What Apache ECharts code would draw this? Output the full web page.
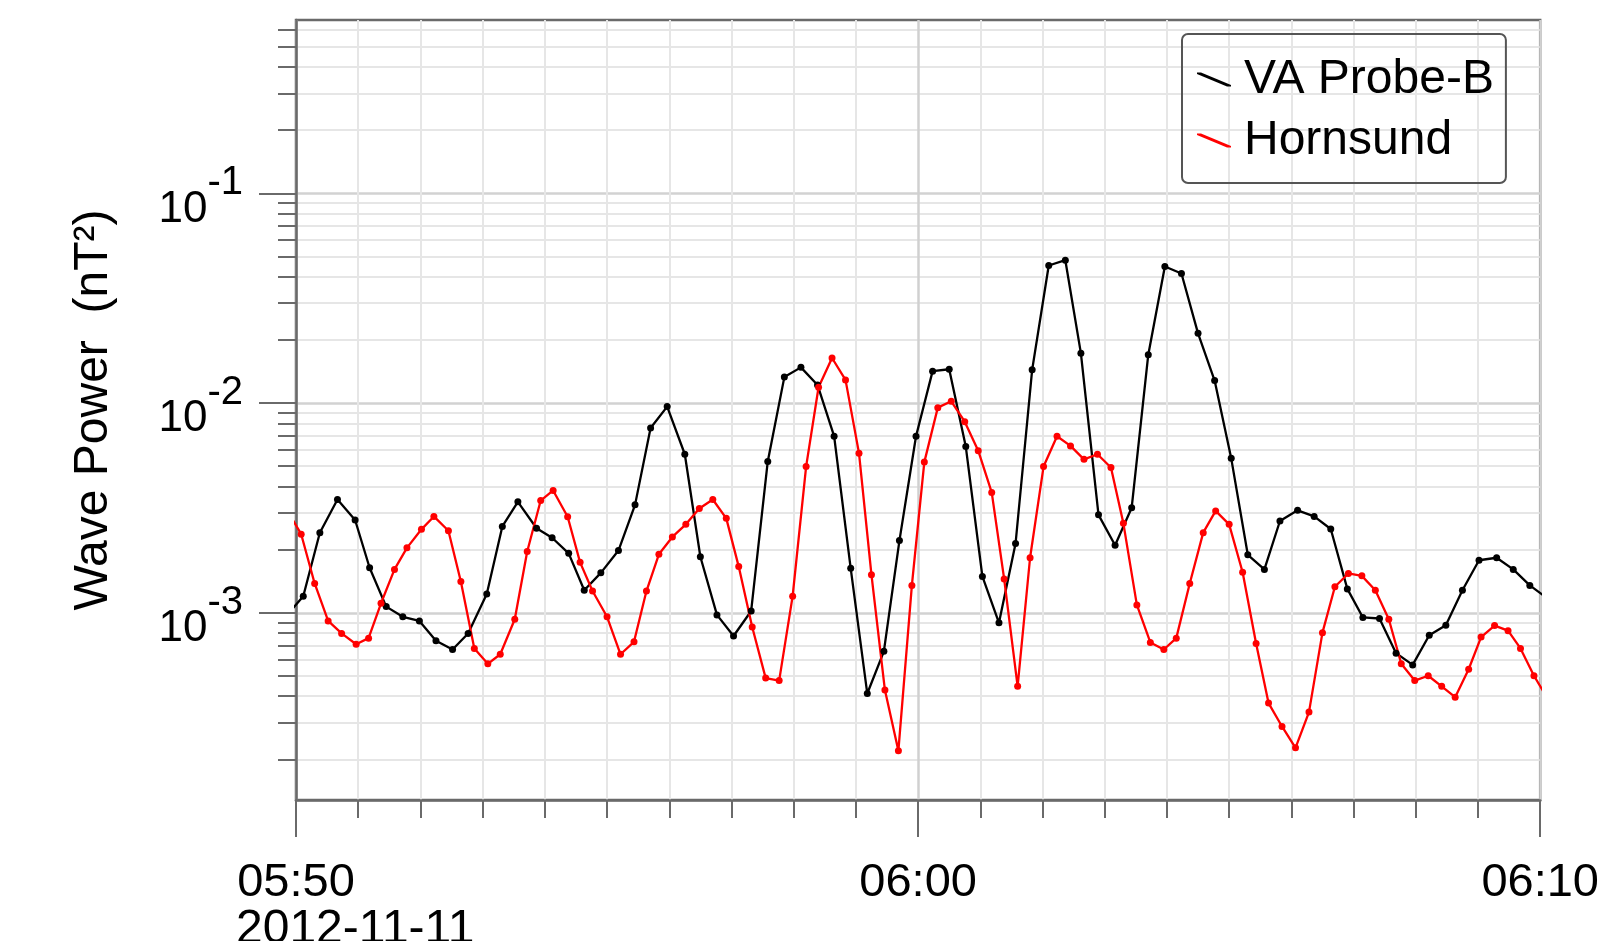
<!DOCTYPE html>
<html>
<head>
<meta charset="utf-8">
<script src="https://cdn.jsdelivr.net/npm/echarts@6/dist/echarts.min.js"></script>
<style>
html,body{margin:0;padding:0;background:#fff;}
#c{width:1602px;height:941px;}
</style>
</head>
<body>
<div id="c"></div>
<script>
// ---- data (seconds after 05:50:00 UT, 2012-11-11) ----
const blackT = [-9,7,23,40,57,71,87,103,119,135,151,166,184,199,214,232,247,263,278,294,311,327,342,358,375,390,406,422,439,455,471,487,503,519,535,551,567,582,598,614,630,646,662,678,694,710,726,742,757,774,790,806,822,838,854,870,886,902,918,934,949,966,982,998,1014,1029,1045,1061,1077,1093,1109,1125,1141,1158,1174,1190,1206];
const blackV = [9.7e-4,1.20e-3,2.41e-3,3.47e-3,2.77e-3,1.64e-3,1.07e-3,9.57e-4,9.14e-4,7.36e-4,6.68e-4,7.97e-4,1.23e-3,2.58e-3,3.38e-3,2.53e-3,2.28e-3,1.92e-3,1.28e-3,1.55e-3,1.98e-3,3.27e-3,7.60e-3,9.62e-3,5.70e-3,1.85e-3,9.77e-4,7.75e-4,1.02e-3,5.27e-3,1.33e-2,1.48e-2,1.22e-2,6.95e-3,1.63e-3,4.12e-4,6.55e-4,2.21e-3,6.95e-3,1.42e-2,1.45e-2,6.20e-3,1.49e-3,8.96e-4,2.14e-3,1.44e-2,4.53e-2,4.80e-2,1.73e-2,2.93e-3,2.10e-3,3.17e-3,1.70e-2,4.48e-2,4.15e-2,2.15e-2,1.28e-2,5.45e-3,1.89e-3,1.61e-3,2.74e-3,3.08e-3,2.88e-3,2.51e-3,1.30e-3,9.50e-4,9.39e-4,6.42e-4,5.64e-4,7.81e-4,8.71e-4,1.28e-3,1.78e-3,1.83e-3,1.61e-3,1.35e-3,1.18e-3];
const redT = [-8,5,18,31,44,58,70,82,95,107,121,133,147,159,172,185,197,211,223,236,248,262,274,286,300,313,326,338,350,363,376,389,402,415,427,440,453,466,479,492,504,517,530,543,555,568,581,594,606,619,632,645,658,671,683,696,708,721,734,747,760,773,786,798,811,824,837,849,862,875,887,900,913,926,938,951,964,977,990,1002,1015,1028,1041,1054,1066,1079,1092,1105,1118,1131,1143,1156,1169,1181,1194,1207];
const redV = [3.05e-3,2.37e-3,1.38e-3,9.14e-4,7.97e-4,7.08e-4,7.57e-4,1.11e-3,1.61e-3,2.04e-3,2.50e-3,2.88e-3,2.46e-3,1.41e-3,6.76e-4,5.71e-4,6.34e-4,9.31e-4,1.96e-3,3.43e-3,3.83e-3,2.87e-3,1.74e-3,1.27e-3,9.57e-4,6.34e-4,7.27e-4,1.27e-3,1.90e-3,2.30e-3,2.64e-3,3.14e-3,3.47e-3,2.82e-3,1.66e-3,8.55e-4,4.88e-4,4.75e-4,1.20e-3,4.98e-3,1.19e-2,1.64e-2,1.29e-2,5.77e-3,1.52e-3,4.28e-4,2.20e-4,1.35e-3,5.23e-3,9.51e-3,1.02e-2,8.15e-3,5.93e-3,3.75e-3,1.45e-3,4.46e-4,1.83e-3,4.98e-3,6.95e-3,6.25e-3,5.39e-3,5.70e-3,4.93e-3,2.67e-3,1.09e-3,7.22e-4,6.68e-4,7.57e-4,1.38e-3,2.41e-3,3.06e-3,2.64e-3,1.56e-3,7.13e-4,3.71e-4,2.87e-4,2.27e-4,3.36e-4,8.04e-4,1.33e-3,1.54e-3,1.50e-3,1.28e-3,9.31e-4,5.71e-4,4.75e-4,5.01e-4,4.46e-4,3.96e-4,5.38e-4,7.66e-4,8.69e-4,8.22e-4,6.76e-4,5.01e-4,3.9e-4];
const seriesNames = ['VA Probe-B', 'Hornsund'];
const xTickSeconds = [0, 600, 1200];
const xTickLabels = ['05:50', '06:00', '06:10'];
const dateLabel = '2012-11-11';
const yMajorTicks = [1e-3, 1e-2, 1e-1];
const yMinorTicks = [2e-4,3e-4,4e-4,5e-4,6e-4,7e-4,8e-4,9e-4,2e-3,3e-3,4e-3,5e-3,6e-3,7e-3,8e-3,9e-3,2e-2,3e-2,4e-2,5e-2,6e-2,7e-2,8e-2,9e-2,2e-1,3e-1,4e-1,5e-1,6e-1];
const yMin = 1.28e-4, yMax = 0.671;
const yTitle = 'Wave Power  (nT\u00B2)';

const FONT = '"Liberation Sans", Arial, Helvetica, sans-serif';
const AX = '#6a6a6a';

function pairs(t, v) { return t.map((x, i) => [x, v[i]]); }

const chart = echarts.init(document.getElementById('c'), null, {renderer: 'canvas'});
const legendIcon = 'path://M0,0L4,0L34,12.5L34,14L30,14L0,1.5Z';

chart.setOption({
  animation: false,
  backgroundColor: '#fff',
  textStyle: {fontFamily: FONT},
  grid: {left: 296, right: 61, top: 20, bottom: 141, show: true, borderColor: AX, borderWidth: 2.5, backgroundColor: 'transparent'},
  legend: {
    orient: 'vertical', left: 1182, top: 34,
    padding: [20, 12, 17, 15],
    borderColor: '#555', borderWidth: 2, borderRadius: 6,
    itemWidth: 34, itemHeight: 14, itemGap: 10,
    textStyle: {fontFamily: FONT, fontSize: 48, lineHeight: 51, color: '#000', padding: [0, 0, 0, 8]},
    data: seriesNames.map(n => ({name: n, icon: legendIcon}))
  },
  xAxis: {
    type: 'value', min: 0, max: 1200, interval: 600,
    axisLine: {show: true, lineStyle: {color: AX, width: 2.5}},
    axisTick: {show: true, length: 37, lineStyle: {color: AX, width: 2}},
    minorTick: {show: true, splitNumber: 10, length: 18, lineStyle: {color: AX, width: 2}},
    splitLine: {show: true, lineStyle: {color: '#d0d0d0', width: 2.5}},
    minorSplitLine: {show: true, lineStyle: {color: '#e6e6e6', width: 2}},
    axisLabel: {
      margin: 60, fontSize: 47, color: '#000', fontFamily: FONT,
      formatter: v => { const i = xTickSeconds.indexOf(v); return i >= 0 ? xTickLabels[i] : ''; }
    }
  },
  yAxis: [{
    type: 'log', min: yMin, max: yMax,
    name: yTitle, nameLocation: 'middle', nameGap: 178, nameRotate: 90,
    nameTextStyle: {fontSize: 48, color: '#000', fontFamily: FONT},
    axisLine: {show: true, lineStyle: {color: AX, width: 2.5}},
    axisTick: {show: true, length: 37, customValues: yMajorTicks, lineStyle: {color: AX, width: 2}},
    minorTick: {show: false},
    splitLine: {show: true, lineStyle: {color: '#d2d2d2', width: 2.5}},
    axisLabel: {
      customValues: yMajorTicks, margin: 53, color: '#000', padding: [8, 0, 0, 0],
      formatter: v => '{b|10}{s|' + Math.round(Math.log10(v)) + '}',
      rich: {
        b: {fontSize: 44, fontFamily: FONT, color: '#000', padding: [24, 0, 0, 0]},
        s: {fontSize: 40, fontFamily: FONT, color: '#000', verticalAlign: 'top'}
      }
    }
  }, {
    type: 'log', min: yMin, max: yMax, position: 'left',
    axisLine: {show: false},
    axisTick: {show: true, length: 18, customValues: yMinorTicks, lineStyle: {color: AX, width: 2}},
    minorTick: {show: false},
    splitLine: {show: true, lineStyle: {color: '#e6e6e6', width: 2}},
    axisLabel: {show: false}
  }],
  graphic: [{
    type: 'text', left: 236, top: 906,
    style: {text: dateLabel, font: '48px ' + FONT, fill: '#000'}
  }],
  series: [{
    name: seriesNames[0], type: 'line', yAxisIndex: 0,
    data: pairs(blackT, blackV),
    symbol: 'circle', symbolSize: 7, showAllSymbol: true, clip: true,
    itemStyle: {color: '#000'}, lineStyle: {color: '#000', width: 2.3}
  }, {
    name: seriesNames[1], type: 'line', yAxisIndex: 0,
    data: pairs(redT, redV),
    symbol: 'circle', symbolSize: 7, showAllSymbol: true, clip: true,
    itemStyle: {color: '#ff0000'}, lineStyle: {color: '#ff0000', width: 2.3}
  }]
});
</script>
</body>
</html>
